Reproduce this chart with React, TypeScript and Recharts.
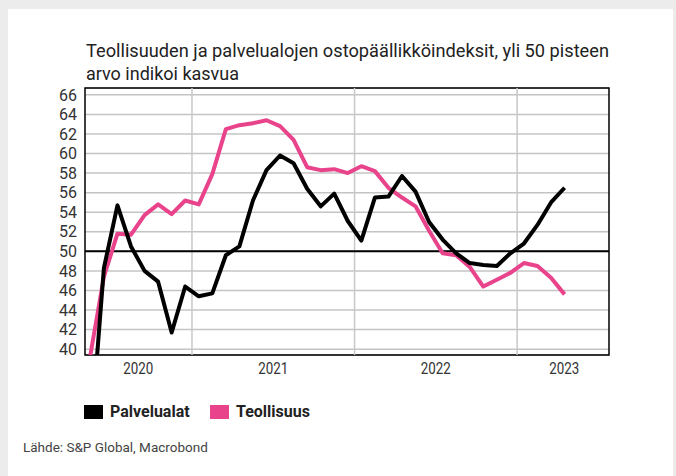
import { LineChart, Line, XAxis, YAxis, CartesianGrid, ReferenceLine, ReferenceArea } from 'recharts'

// monthly, May 2020 – Apr 2023
const months = [
  '2020-05', '2020-06', '2020-07', '2020-08', '2020-09', '2020-10', '2020-11', '2020-12',
  '2021-01', '2021-02', '2021-03', '2021-04', '2021-05', '2021-06', '2021-07', '2021-08',
  '2021-09', '2021-10', '2021-11', '2021-12', '2022-01', '2022-02', '2022-03', '2022-04',
  '2022-05', '2022-06', '2022-07', '2022-08', '2022-09', '2022-10', '2022-11', '2022-12',
  '2023-01', '2023-02', '2023-03', '2023-04',
]

const palvelualat = [
  30.5, 48.3, 54.7, 50.5, 48.0, 46.9, 41.7, 46.4,
  45.4, 45.7, 49.6, 50.5, 55.2, 58.3, 59.8, 59.0,
  56.4, 54.6, 55.9, 53.1, 51.1, 55.5, 55.6, 57.7,
  56.1, 53.0, 51.2, 49.8, 48.8, 48.6, 48.5, 49.8,
  50.8, 52.7, 55.0, 56.5,
]

const teollisuus = [
  39.4, 47.4, 51.8, 51.7, 53.7, 54.8, 53.8, 55.2,
  54.8, 57.9, 62.5, 62.9, 63.1, 63.4, 62.8, 61.4,
  58.6, 58.3, 58.4, 58.0, 58.7, 58.2, 56.5, 55.5,
  54.6, 52.1, 49.8, 49.6, 48.4, 46.4, 47.1, 47.8,
  48.8, 48.5, 47.3, 45.6,
]

const yTicks = [40, 42, 44, 46, 48, 50, 52, 54, 56, 58, 60, 62, 64, 66]
const yearLines = [2021, 2022, 2023]
// year labels sit in the middle of the visible part of each year
const yearLabelPos = [2020.67, 2021.5, 2022.5, 2023.29]

const X_DOMAIN: [number, number] = [2020.342, 2023.565]
const Y_DOMAIN: [number, number] = [39.4, 66.7]

const FONT = 'Roboto, "Open Sans", sans-serif'

const data = months.map((m, i) => {
  const [y, mo] = m.split('-').map(Number)
  return {
    t: y + (mo - 0.5) / 12,
    palvelualat: palvelualat[i],
    teollisuus: teollisuus[i],
  }
})

const YearTick = (props: any) => {
  const { x, y, payload } = props
  return (
    <text
      x={x}
      y={y}
      dy="0.71em"
      textAnchor="middle"
      fontSize={16}
      fill="#333"
      fontFamily={FONT}
      textLength={30}
      lengthAdjust="spacingAndGlyphs"
    >
      {Math.floor(payload.value)}
    </text>
  )
}

export default function App() {
  return (
    <div
      style={{
        position: 'absolute',
        left: 0,
        top: 0,
        width: 676,
        height: 476,
        background: '#ececec',
        overflow: 'hidden',
        fontFamily: FONT,
      }}
    >
      <div style={{ position: 'absolute', left: 8, top: 9, width: 665, height: 470, background: '#fff' }} />

      <svg width={676} height={90} style={{ position: 'absolute', left: 0, top: 0 }}>
        <text x={86} y={57} fontSize={18.5} fill="#222" fontFamily={FONT} textLength={523} lengthAdjust="spacingAndGlyphs">
          Teollisuuden ja palvelualojen ostopäällikköindeksit, yli 50 pisteen
        </text>
        <text x={86} y={80} fontSize={18.5} fill="#222" fontFamily={FONT} textLength={153} lengthAdjust="spacingAndGlyphs">
          arvo indikoi kasvua
        </text>
      </svg>

      <div style={{ position: 'absolute', left: 0, top: 0 }}>
        <LineChart width={676} height={400} data={data} margin={{ top: 88, right: 67, bottom: 15, left: 0 }}>
          <CartesianGrid vertical={false} stroke="#c4c4c4" strokeWidth={1.5} />
          {yearLines.map((yr) => (
            <ReferenceLine key={yr} x={yr} stroke="#c8c8c8" strokeWidth={1.5} />
          ))}
          <ReferenceLine y={50} stroke="#000" strokeWidth={2} />
          <ReferenceArea
            x1={X_DOMAIN[0]}
            x2={X_DOMAIN[1]}
            y1={Y_DOMAIN[0]}
            y2={Y_DOMAIN[1]}
            fill="none"
            fillOpacity={0}
            stroke="#000"
            strokeWidth={1.5}
            strokeOpacity={1}
          />
          <XAxis
            dataKey="t"
            type="number"
            domain={X_DOMAIN}
            allowDataOverflow
            ticks={yearLabelPos}
            tick={<YearTick />}
            tickLine={false}
            axisLine={false}
            tickSize={0}
            tickMargin={8}
            height={30}
          />
          <YAxis
            type="number"
            domain={Y_DOMAIN}
            allowDataOverflow
            ticks={yTicks}
            interval={0}
            tickLine={false}
            axisLine={false}
            tickSize={0}
            tickMargin={8}
            width={85}
            tick={{ fill: '#333', fontSize: 16, fontFamily: FONT }}
          />
          <Line
            dataKey="teollisuus"
            stroke="#e8438b"
            strokeWidth={4}
            dot={false}
            strokeLinejoin="round"
            isAnimationActive={false}
          />
          <Line
            dataKey="palvelualat"
            stroke="#000"
            strokeWidth={4}
            dot={false}
            strokeLinejoin="round"
            isAnimationActive={false}
          />
        </LineChart>
      </div>

      {/* Legend */}
      <div style={{ position: 'absolute', left: 84, top: 405, width: 19, height: 14, background: '#000' }} />
      <div style={{ position: 'absolute', left: 110, top: 402, fontSize: 16, fontWeight: 700, color: '#222', lineHeight: '20px' }}>
        Palvelualat
      </div>
      <div style={{ position: 'absolute', left: 210, top: 405, width: 19, height: 14, background: '#e8438b' }} />
      <div style={{ position: 'absolute', left: 236, top: 402, fontSize: 16, fontWeight: 700, color: '#222', lineHeight: '20px' }}>
        Teollisuus
      </div>

      <div style={{ position: 'absolute', left: 23, top: 438, fontSize: 13.5, color: '#444', lineHeight: '18px' }}>
        Lähde: S&amp;P Global, Macrobond
      </div>
    </div>
  )
}
